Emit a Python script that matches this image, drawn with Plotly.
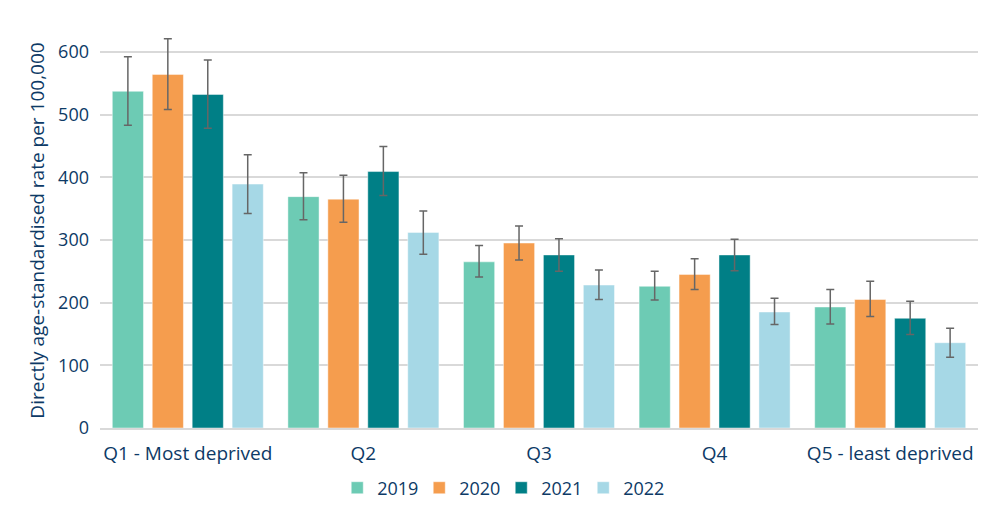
import plotly.graph_objects as go

# deprivation quintiles
categories = ["Q1 - Most deprived", "Q2", "Q3", "Q4", "Q5 - least deprived"]
years = ["2019", "2020", "2021", "2022"]

# rates per year
rate_2019 = [537, 369, 265, 226, 193]
rate_2020 = [564, 365, 295, 245, 205]
rate_2021 = [532, 409, 276, 276, 175]
rate_2022 = [389, 312, 228, 185, 136]

# confidence interval bounds
upper_2019 = [592, 407, 291, 250, 221]
lower_2019 = [483, 332, 241, 204, 166]
upper_2020 = [621, 403, 322, 270, 234]
lower_2020 = [508, 328, 268, 221, 178]
upper_2021 = [587, 449, 302, 301, 202]
lower_2021 = [478, 371, 250, 251, 149]
upper_2022 = [436, 346, 252, 207, 159]
lower_2022 = [342, 277, 205, 165, 113]

colours = ["#6DCBB4", "#F59D4E", "#007F86", "#A6D8E6"]
text_col = "#0D3A66"

series = [
    (rate_2019, upper_2019, lower_2019),
    (rate_2020, upper_2020, lower_2020),
    (rate_2021, upper_2021, lower_2021),
    (rate_2022, upper_2022, lower_2022),
]

fig = go.Figure()
for yr, col, (vals, hi, lo) in zip(years, colours, series):
    fig.add_trace(go.Bar(
        x=categories, y=vals, name=yr,
        marker=dict(color=col, line=dict(color="rgba(255,255,255,0.45)", width=1)),
        error_y=dict(type="data", symmetric=False,
                     array=[h - v for h, v in zip(hi, vals)],
                     arrayminus=[v - l for v, l in zip(vals, lo)],
                     color="#666666", thickness=1.5, width=4),
    ))

# page body adds ~8px offset, margins compensate
fig.update_layout(
    width=1000, height=520,
    margin=dict(l=92, r=30, t=25, b=100),
    plot_bgcolor="white", paper_bgcolor="white",
    barmode="group", bargap=0.09, bargroupgap=0.22,
    font=dict(family="Open Sans, Noto Sans, sans-serif", color=text_col, size=18),
    legend=dict(orientation="h", x=0.457, xanchor="center", y=-0.152, yanchor="middle",
                font=dict(size=18, color=text_col), itemwidth=30, entrywidth=37,
                traceorder="normal"),
    xaxis=dict(showline=True, linecolor="#D9D9D9", linewidth=1.5,
               tickfont=dict(size=19, color=text_col), ticks="", ticklabelstandoff=7),
    yaxis=dict(range=[0, 630], tickvals=[0, 100, 200, 300, 400, 500, 600],
               showgrid=True, gridcolor="#D9D9D9", gridwidth=1.5, zeroline=False,
               tickfont=dict(size=18, color=text_col), ticks="", ticklabelstandoff=10,
               title=dict(text="Directly age-standardised rate per 100,000",
                          font=dict(size=19, color=text_col), standoff=8)),
)

fig.write_html("out.html")
